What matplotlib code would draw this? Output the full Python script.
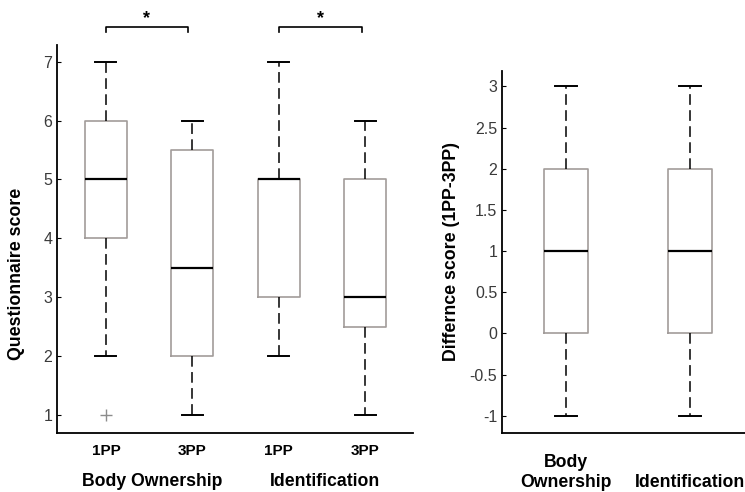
import matplotlib
matplotlib.use("Agg")
import matplotlib.pyplot as plt
from matplotlib.ticker import FormatStrFormatter

plt.rcParams["font.family"] = ["Liberation Sans", "DejaVu Sans"]

# questionnaire scores
q_labels = ["1PP", "3PP", "1PP", "3PP"]
q_groups = ["Body Ownership", "Identification"]
q_med = [5, 3.5, 5, 3]
q_q1 = [4, 2, 3, 2.5]
q_q3 = [6, 5.5, 5, 5]
q_lo = [2, 1, 2, 1]
q_hi = [7, 6, 7, 6]
q_fliers = [[1], [], [], []]

# difference scores (1PP-3PP)
d_labels = ["Body\nOwnership", "Identification"]
d_med = [1, 1]
d_q1 = [0, 0]
d_q3 = [2, 2]
d_lo = [-1, -1]
d_hi = [3, 3]

BOX_C = "#a29c9a"
TXT_C = "#3a3a3a"


def stats(med, q1, q3, lo, hi, fl=None):
    out = []
    for i in range(len(med)):
        out.append(dict(med=med[i], q1=q1[i], q3=q3[i], whislo=lo[i], whishi=hi[i],
                        fliers=(fl[i] if fl else [])))
    return out


def draw(ax, st, width):
    ax.bxp(st, positions=range(1, len(st) + 1), widths=width, showfliers=True,
           boxprops=dict(color=BOX_C, lw=1.2),
           medianprops=dict(color="black", lw=1.6),
           whiskerprops=dict(color="black", lw=1.1, dashes=(7, 3.5)),
           capprops=dict(color="black", lw=1.4),
           flierprops=dict(marker="+", markeredgecolor="#8c8c8c", markersize=8, mew=1))
    for s in ("top", "right"):
        ax.spines[s].set_visible(False)
    for s in ("left", "bottom"):
        ax.spines[s].set_linewidth(1.3)
    ax.tick_params(axis="y", direction="in", length=3, labelsize=11.5, labelcolor=TXT_C)
    ax.tick_params(axis="x", length=0)


fig = plt.figure(figsize=(7.45, 4.92), dpi=100)

ax1 = fig.add_axes([0.0765, 0.120, 0.478, 0.789])
draw(ax1, stats(q_med, q_q1, q_q3, q_lo, q_hi, q_fliers), 0.49)
ax1.set_xlim(0.434, 4.555)
ax1.set_ylim(0.69, 7.29)
ax1.set_yticks([1, 2, 3, 4, 5, 6, 7])
ax1.set_xticks([1, 2, 3, 4])
ax1.set_xticklabels(q_labels, fontsize=11, fontweight="bold")
ax1.tick_params(axis="x", pad=8)
ax1.set_ylabel("Questionnaire score", fontsize=12.8, fontweight="bold")
ax1.yaxis.set_label_coords(-0.09, 0.41)
for gx, g in zip([1.54, 3.53], q_groups):
    ax1.text(gx, -0.126, g, transform=ax1.get_xaxis_transform(), ha="center", va="center",
             fontsize=12.7, fontweight="bold")

# significance brackets
for x0, x1 in [(1.0, 1.95), (3.0, 3.96)]:
    ax1.plot([x0, x0, x1, x1], [7.51, 7.595, 7.595, 7.51], color="black", lw=1.2, clip_on=False)
    ax1.text((x0 + x1) / 2, 7.74, "*", ha="center", va="center", fontsize=13, fontweight="bold")

ax2 = fig.add_axes([0.674, 0.120, 0.387, 0.736])
draw(ax2, stats(d_med, d_q1, d_q3, d_lo, d_hi), 0.355)
ax2.set_xlim(0.484, 2.806)
ax2.set_ylim(-1.21, 3.19)
ax2.set_yticks([-1, -0.5, 0, 0.5, 1, 1.5, 2, 2.5, 3])
ax2.yaxis.set_major_formatter(FormatStrFormatter("%g"))
ax2.set_xticks([1, 2])
ax2.set_xticklabels(["", ""])
ax2.set_ylabel("Differnce score (1PP-3PP)", fontsize=12.8, fontweight="bold")
ax2.yaxis.set_label_coords(-0.146, 0.5)
for gx, g in zip([1, 2], d_labels):
    ax2.text(gx, -0.16, g, transform=ax2.get_xaxis_transform(), ha="center", va="bottom",
             fontsize=12.7, fontweight="bold", linespacing=1.2)

fig.savefig("out.png", dpi=100)
